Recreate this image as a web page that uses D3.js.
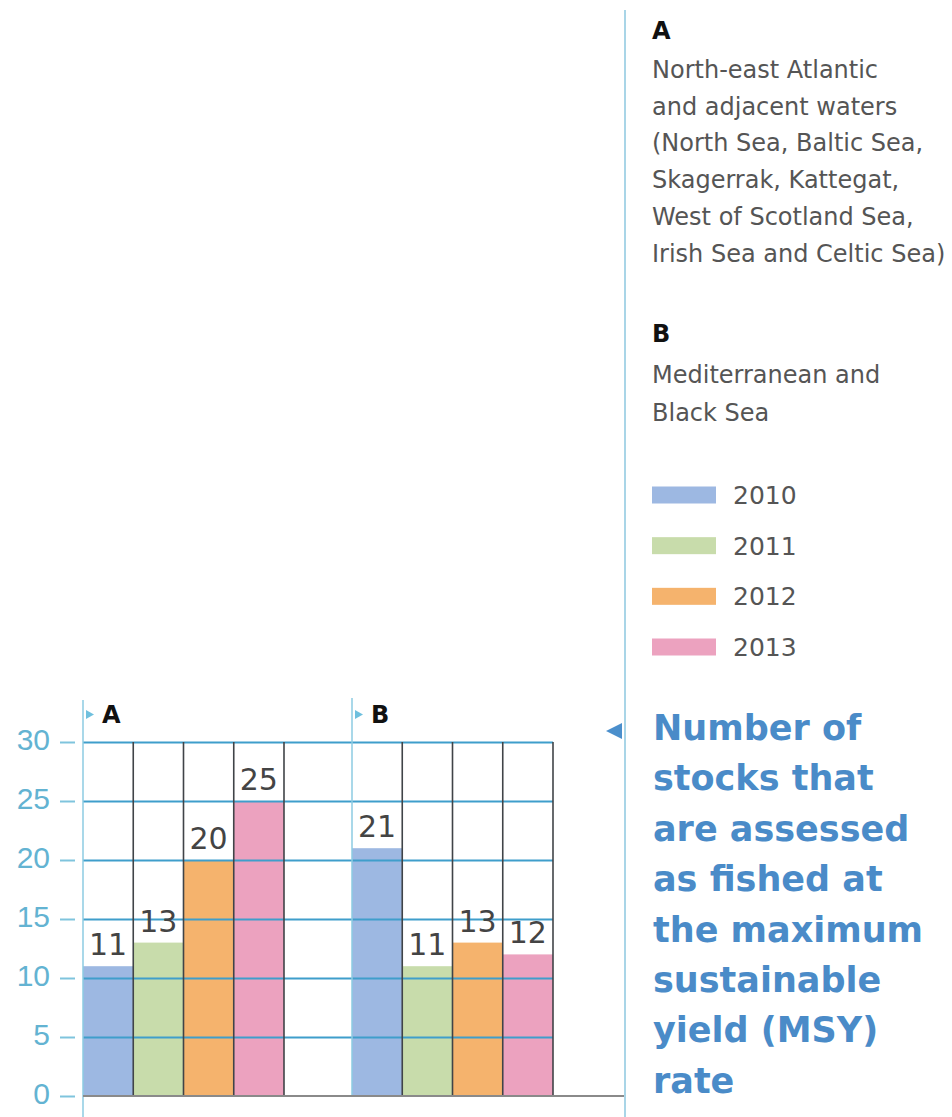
<!DOCTYPE html>
<meta charset="utf-8" />
<style>
  body { margin: 0; background: #fff; }
  svg { display: block; font-family: "DejaVu Sans", sans-serif; }
  .grid line { stroke: #3f9ecb; stroke-width: 2; }
  .ticks line { stroke: #7fc4dd; stroke-width: 2; }
  .ticks text { fill: #63b3d2; font-size: 30px; }
  .sep { stroke: #404448; stroke-width: 1.6; }
  .vals text { fill: #444; font-size: 30px; text-anchor: middle; }
  .legend text { fill: #555; }
</style>

<svg width="952" height="1117"></svg>

<script src="https://cdnjs.cloudflare.com/ajax/libs/d3/7.8.5/d3.min.js"></script>
<script>
  // data
  var groups = ["A", "B"];
  var years = ["2010", "2011", "2012", "2013"];
  var valuesA = [11, 13, 20, 25];
  var valuesB = [21, 11, 13, 12];
  var yTicks = [0, 5, 10, 15, 20, 25, 30];
  var colors = ["#9db8e2", "#c8dcab", "#f5b36d", "#eca2bf"];

  var legendA = ["North-east Atlantic", "and adjacent waters", "(North Sea, Baltic Sea,",
    "Skagerrak, Kattegat,", "West of Scotland Sea,", "Irish Sea and Celtic Sea)"];
  var legendB = ["Mediterranean and", "Black Sea"];
  var titleLines = ["Number of", "stocks that", "are assessed", "as fished at",
    "the maximum", "sustainable", "yield (MSY)", "rate"];

  var svg = d3.select("svg");

  var rows = [];
  groups.forEach(function (g, gi) {
    var vals = gi == 0 ? valuesA : valuesB;
    years.forEach(function (yr, i) {
      rows.push({ group: g, year: yr, value: vals[i] });
    });
  });

  var x0 = d3.scaleBand().domain(groups).range([83, 553]).paddingInner(0.2528).paddingOuter(0);
  var x1 = d3.scaleBand().domain(years).range([0, x0.bandwidth()]);
  var y = d3.scaleLinear().domain([0, 30]).range([1096, 742]);
  var color = d3.scaleOrdinal().domain(years).range(colors);

  // bars
  svg.append("g")
    .selectAll("rect")
    .data(rows)
    .enter()
    .append("rect")
    .attr("x", function (d) { return x0(d.group) + x1(d.year); })
    .attr("y", function (d) { return y(d.value); })
    .attr("width", x1.bandwidth())
    .attr("height", function (d) { return y(0) - y(d.value); })
    .attr("fill", function (d) { return color(d.year); });

  // horizontal grid
  var grid = svg.append("g")
    .attr("class", "grid")
    .attr("transform", "translate(83,0)")
    .call(d3.axisLeft(y).tickValues(yTicks.slice(1)).tickSize(-(553 - 83)).tickFormat(""));
  grid.select(".domain").remove();

  // dark separators at right edge of every bar
  svg.append("g")
    .selectAll("line")
    .data(rows)
    .enter()
    .append("line")
    .attr("class", "sep")
    .attr("x1", function (d) { return x0(d.group) + x1(d.year) + x1.bandwidth(); })
    .attr("x2", function (d) { return x0(d.group) + x1(d.year) + x1.bandwidth(); })
    .attr("y1", y(30))
    .attr("y2", y(0));

  // y ticks, detached from the axis line
  var ticks = svg.append("g")
    .attr("class", "ticks")
    .attr("transform", "translate(75,0)")
    .call(d3.axisLeft(y).tickValues(yTicks).tickSize(15).tickPadding(10));
  ticks.select(".domain").remove();
  ticks.selectAll("text").attr("dy", "0.25em");

  // light blue axis lines for each group
  svg.append("line")
    .attr("x1", x0("A")).attr("x2", x0("A"))
    .attr("y1", 700).attr("y2", 1117)
    .attr("stroke", "#8ccbe2").attr("stroke-width", 1.5);
  svg.append("line")
    .attr("x1", x0("B")).attr("x2", x0("B"))
    .attr("y1", 698).attr("y2", y(0))
    .attr("stroke", "#8ccbe2").attr("stroke-width", 1.5);

  // baseline
  svg.append("line")
    .attr("x1", 83).attr("x2", 625)
    .attr("y1", y(0)).attr("y2", y(0))
    .attr("stroke", "#8a8a8a").attr("stroke-width", 2);

  // group labels with small markers
  groups.forEach(function (g) {
    var gx = x0(g);
    svg.append("path")
      .attr("d", "M" + (gx + 3) + ",710 L" + (gx + 11) + ",714.5 L" + (gx + 3) + ",719 Z")
      .attr("fill", "#6fc0de");
    svg.append("text")
      .attr("x", gx + 19)
      .attr("y", 723)
      .attr("font-size", 24)
      .attr("font-weight", "bold")
      .attr("fill", "#111")
      .text(g);
  });

  // value labels
  svg.append("g")
    .attr("class", "vals")
    .selectAll("text")
    .data(rows)
    .enter()
    .append("text")
    .attr("x", function (d) { return x0(d.group) + x1(d.year) + x1.bandwidth() / 2; })
    .attr("y", function (d) { return y(d.value) - 11; })
    .text(function (d) { return d.value; });

  // right divider with pointer
  svg.append("line")
    .attr("x1", 625).attr("x2", 625)
    .attr("y1", 10).attr("y2", 1117)
    .attr("stroke", "#a9d5e7").attr("stroke-width", 2);
  svg.append("path")
    .attr("d", "M606,731 L622,723 L622,739 Z")
    .attr("fill", "#4b8fcc");

  // legend: regions
  var legend = svg.append("g").attr("class", "legend");
  legend.append("text")
    .attr("x", 652).attr("y", 39)
    .attr("font-size", 24).attr("font-weight", "bold")
    .style("fill", "#111")
    .text("A");
  legend.selectAll("text.la")
    .data(legendA)
    .enter()
    .append("text")
    .attr("class", "la")
    .attr("x", 652)
    .attr("y", function (d, i) { return 78 + i * 36.7; })
    .attr("font-size", 24)
    .text(function (d) { return d; });

  legend.append("text")
    .attr("x", 652).attr("y", 342)
    .attr("font-size", 24).attr("font-weight", "bold")
    .style("fill", "#111")
    .text("B");
  legend.selectAll("text.lb")
    .data(legendB)
    .enter()
    .append("text")
    .attr("class", "lb")
    .attr("x", 652)
    .attr("y", function (d, i) { return 383 + i * 37.5; })
    .attr("font-size", 24)
    .text(function (d) { return d; });

  // legend: years
  var ly = d3.scalePoint().domain(years).range([495, 647]);
  legend.selectAll("rect")
    .data(years)
    .enter()
    .append("rect")
    .attr("x", 652)
    .attr("y", function (d) { return ly(d) - 8.5; })
    .attr("width", 64)
    .attr("height", 17)
    .attr("fill", function (d) { return color(d); });
  legend.selectAll("text.yr")
    .data(years)
    .enter()
    .append("text")
    .attr("class", "yr")
    .attr("x", 733)
    .attr("y", function (d) { return ly(d) + 9; })
    .attr("font-size", 25)
    .text(function (d) { return d; });

  // title
  svg.append("g")
    .selectAll("text")
    .data(titleLines)
    .enter()
    .append("text")
    .attr("x", 653)
    .attr("y", function (d, i) { return 740 + i * 50.4; })
    .attr("font-size", 35)
    .attr("font-weight", "bold")
    .attr("fill", "#4a8bc8")
    .text(function (d) { return d; });
</script>
